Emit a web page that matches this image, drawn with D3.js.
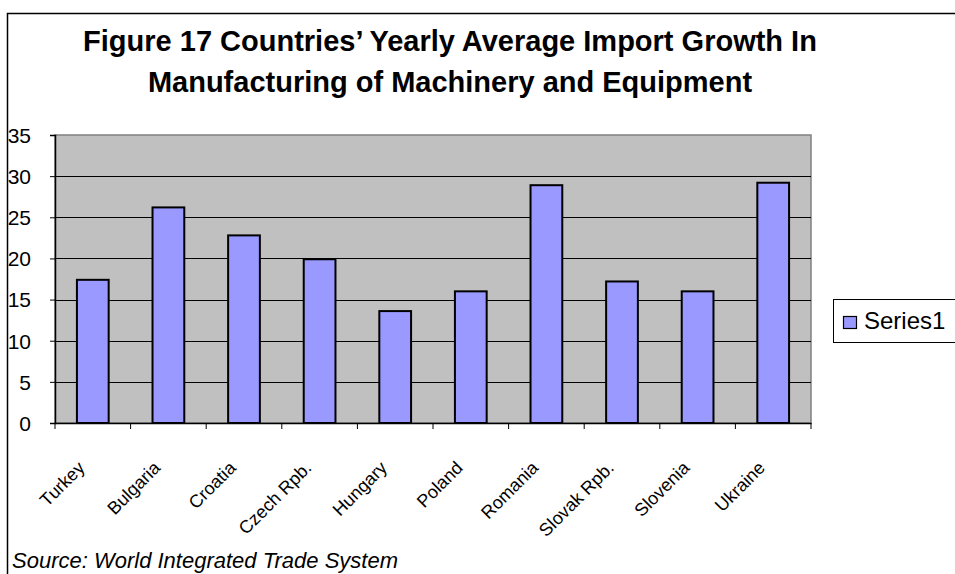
<!DOCTYPE html>
<html>
<head>
<meta charset="utf-8">
<script src="https://cdn.jsdelivr.net/npm/d3@7"></script>
<style>
  html, body { margin: 0; padding: 0; background: #fff; }
  svg { display: block; font-family: "Liberation Sans", Arial, sans-serif; }
</style>
</head>
<body>
<svg id="chart" width="955" height="574"></svg>
<script>
const titleLines = ["Figure 17 Countries\u2019 Yearly Average Import Growth In", "Manufacturing of Machinery and Equipment"];
const categories = ["Turkey", "Bulgaria", "Croatia", "Czech Rpb.", "Hungary", "Poland", "Romania", "Slovak Rpb.", "Slovenia", "Ukraine"];
const series1 = [17.4, 26.2, 22.8, 19.9, 13.6, 16.0, 28.9, 17.2, 16.0, 29.2];
const yTicks = [0, 5, 10, 15, 20, 25, 30, 35];
const seriesName = "Series1";
const sourceText = "Source: World Integrated Trade System";

const svg = d3.select("#chart");
const plot = { left: 55, right: 811, top: 135, bottom: 423 };

const x = d3.scaleBand().domain(categories).range([plot.left, plot.right]).paddingInner(0.58).paddingOuter(0.29);
const xb = d3.scaleBand().domain(categories).range([plot.left, plot.right]);
const y = d3.scaleLinear().domain([0, 35]).range([plot.bottom, plot.top]);

// outer border
svg.append("path").attr("d", "M7.5,574 V13.5 H955").attr("fill", "none").attr("stroke", "#000").attr("stroke-width", 1.5);

// title
const title = svg.append("text").attr("text-anchor", "middle").attr("font-weight", "bold").attr("font-size", 29).attr("fill", "#000");
titleLines.forEach((t, i) => {
  title.append("tspan").attr("x", 450).attr("y", 51 + i * 41).text(t);
});

// plot background
svg.append("rect").attr("x", plot.left).attr("y", plot.top)
  .attr("width", plot.right - plot.left).attr("height", plot.bottom - plot.top)
  .attr("fill", "#C0C0C0").attr("stroke", "#808080").attr("stroke-width", 1.5);

// gridlines
svg.append("g").selectAll("line").data(yTicks.filter(d => d > 0 && d < 35)).join("line")
  .attr("x1", plot.left).attr("x2", plot.right)
  .attr("y1", d => Math.round(y(d)) + 0.5).attr("y2", d => Math.round(y(d)) + 0.5)
  .attr("stroke", "#000").attr("stroke-width", 1.2);

// bars
svg.append("g").selectAll("rect").data(series1).join("rect")
  .attr("x", (d, i) => x(categories[i]))
  .attr("y", d => y(d))
  .attr("width", x.bandwidth())
  .attr("height", d => y(0) - y(d))
  .attr("fill", "#9999FF").attr("stroke", "#000").attr("stroke-width", 2);

// y axis
const yAxis = d3.axisLeft(y).tickValues(yTicks).tickSize(5).tickPadding(4).tickFormat(d3.format("d"));
const yg = svg.append("g").attr("transform", `translate(${plot.left},0)`).call(yAxis);
yg.select(".domain").attr("stroke", "#000").attr("stroke-width", 1.5);
yg.selectAll(".tick line").attr("stroke", "#000");
yg.selectAll(".tick text").attr("font-size", 21).attr("font-family", "Liberation Sans, Arial, sans-serif").attr("fill", "#000").attr("x", -24).attr("dy", "0.35em");

// x axis
const xAxis = d3.axisBottom(xb).tickSize(0).tickFormat("");
const xg = svg.append("g").attr("transform", `translate(0,${plot.bottom})`).call(xAxis);
xg.select(".domain").attr("stroke", "#000").attr("stroke-width", 1.5);
xg.selectAll(".tick").remove();
svg.append("g").selectAll("line").data(d3.range(categories.length + 1)).join("line")
  .attr("x1", i => plot.left + i * xb.step()).attr("x2", i => plot.left + i * xb.step())
  .attr("y1", plot.bottom).attr("y2", plot.bottom + 6).attr("stroke", "#000");

// x labels
svg.append("g").selectAll("text").data(categories).join("text")
  .attr("transform", d => `translate(${xb(d) + xb.bandwidth() / 2 - 7},${469}) rotate(-45)`)
  .attr("text-anchor", "end").attr("font-size", 18).attr("fill", "#000").text(d => d);

// legend
const lg = svg.append("g");
lg.append("rect").attr("x", 833.5).attr("y", 299.5).attr("width", 130).attr("height", 43).attr("fill", "#fff").attr("stroke", "#000");
lg.append("rect").attr("x", 843.5).attr("y", 316.5).attr("width", 13).attr("height", 12).attr("fill", "#9999FF").attr("stroke", "#000").attr("stroke-width", 1.2);
lg.append("text").attr("x", 864).attr("y", 329).attr("font-size", 24).attr("fill", "#000").text(seriesName);

// source
svg.append("text").attr("x", 12).attr("y", 568).attr("font-size", 22).attr("font-style", "italic").attr("fill", "#000").text(sourceText);
</script>
</body>
</html>
